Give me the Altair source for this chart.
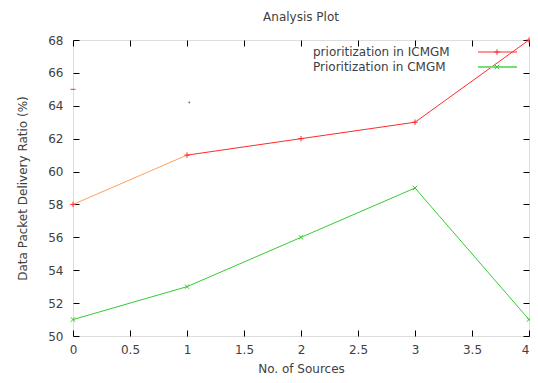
import altair as alt
import pandas as pd

sources = [0, 1, 2, 3, 4]
icmgm = [58, 61, 62, 63, 68]
cmgm = [51, 53, 56, 59, 51]
stray_x = [0, 1.02]
stray_y = [65, 64.2]
x_ticks = [0, 0.5, 1, 1.5, 2, 2.5, 3, 3.5, 4]
y_ticks = [50, 52, 54, 56, 58, 60, 62, 64, 66, 68]
series_names = ["prioritization in ICMGM", "Prioritization in CMGM"]

FONT = "DejaVu Sans"
TXT = "#404040"
RED = "#ff2a2a"
ORANGE = "#ffa060"
GREEN = "#33cc33"

red_seg = pd.DataFrame(
    [{"x": sources[i], "y": icmgm[i], "seg": "a"} for i in range(0, 2)]
    + [{"x": sources[i], "y": icmgm[i], "seg": "b"} for i in range(1, len(sources))]
)
red_pts = pd.DataFrame({"x": sources, "y": icmgm})
green_df = pd.DataFrame({"x": sources, "y": cmgm})
stray = pd.DataFrame({"x": stray_x, "y": stray_y, "c": ["red", "dot"]})

xs = alt.Scale(domain=[0, 4], nice=False, zero=False)
ys = alt.Scale(domain=[50, 68], nice=False, zero=False)

common_axis = dict(
    domain=False, grid=False, ticks=True, tickSize=6, offset=-6,
    tickColor="#000000", tickWidth=1,
    labelFont=FONT, labelFontSize=12, labelColor=TXT,
    titleFont=FONT, titleFontSize=12, titleColor=TXT, titleFontWeight="normal",
)

x_bottom = alt.X("x:Q", scale=xs, axis=alt.Axis(
    values=x_ticks, orient="bottom", title="No. of Sources", labelPadding=8,
    labelFlush=False, labelOverlap=False, format="~g",
    labelAlign=alt.expr("datum.value == 4 ? 'right' : 'center'"),
    titleY=38, titleBaseline="middle", **common_axis))
y_left = alt.Y("y:Q", scale=ys, axis=alt.Axis(
    values=y_ticks, orient="left", title="Data Packet Delivery Ratio (%)",
    labelPadding=10, labelFlush=False, labelOverlap=False,
    titleX=-57, titleY=148, titleBaseline="middle", **common_axis))

x_top = alt.X("x:Q", scale=xs, axis=alt.Axis(
    values=x_ticks, orient="top", title=None, labels=False, **common_axis))
y_right = alt.Y("y:Q", scale=ys, axis=alt.Axis(
    values=y_ticks, orient="right", title=None, labels=False, **common_axis))

XN = alt.X("x:Q", scale=xs, axis=None)
YN = alt.Y("y:Q", scale=ys, axis=None)

red_line = alt.Chart(red_seg).mark_line(strokeWidth=1).encode(
    x=x_bottom, y=y_left,
    color=alt.Color("seg:N", scale=alt.Scale(domain=["a", "b"], range=[ORANGE, RED]), legend=None),
    detail="seg:N",
)

plus_path = "M-1,0L1,0M0,-1L0,1"
cross_path = "M-1,-1L1,1M-1,1L1,-1"

red_marks = alt.Chart(red_pts).mark_point(
    shape=plus_path, size=30, filled=False, color=RED, strokeWidth=1, opacity=1
).encode(x=XN, y=YN)

green_line = alt.Chart(green_df).mark_line(color=GREEN, strokeWidth=1).encode(x=XN, y=YN)
green_marks = alt.Chart(green_df).mark_point(
    shape=cross_path, size=20, filled=False, color=GREEN, strokeWidth=1, opacity=1
).encode(x=XN, y=YN)

stray_red = alt.Chart(stray[stray.c == "red"]).mark_point(
    shape="M-1,0L1,0", size=25, filled=False, color=RED, strokeWidth=1, opacity=1
).encode(x=XN, y=YN)
stray_dot = alt.Chart(stray[stray.c == "dot"]).mark_point(
    shape="circle", size=3, filled=True, color="#606060", opacity=1
).encode(x=XN, y=YN)

frame_axes = alt.Chart(red_pts).mark_point(opacity=0).encode(x=x_top, y=y_right)

leg0 = pd.DataFrame({"name": [series_names[0]]})
leg1 = pd.DataFrame({"name": [series_names[1]]})
ROW0, ROW1 = 12, 27
LX = 240
leg_text0 = alt.Chart(leg0).mark_text(
    align="left", baseline="middle", font=FONT, fontSize=12, color=TXT
).encode(text="name:N", x=alt.value(LX), y=alt.value(ROW0))
leg_text1 = alt.Chart(leg1).mark_text(
    align="left", baseline="middle", font=FONT, fontSize=12, color=TXT
).encode(text="name:N", x=alt.value(LX), y=alt.value(ROW1))
leg_red = alt.Chart(leg0).mark_rule(color=RED, strokeWidth=1).encode(
    x=alt.value(405), x2=alt.value(444), y=alt.value(ROW0))
leg_red_pt = alt.Chart(leg0).mark_point(
    shape=plus_path, size=30, filled=False, color=RED, strokeWidth=1, opacity=1
).encode(x=alt.value(424), y=alt.value(ROW0))
leg_green = alt.Chart(leg1).mark_rule(color="#77dd77", strokeWidth=2).encode(
    x=alt.value(405), x2=alt.value(444), y=alt.value(ROW1))
leg_green_pt = alt.Chart(leg1).mark_point(
    shape=cross_path, size=20, filled=False, color=GREEN, strokeWidth=1, opacity=1
).encode(x=alt.value(424), y=alt.value(ROW1))

chart = alt.layer(
    red_line, frame_axes, green_line, green_marks, red_marks, stray_red, stray_dot,
    leg_text0, leg_text1, leg_red, leg_red_pt, leg_green, leg_green_pt,
).resolve_axis(x="independent", y="independent").resolve_scale(y="shared", x="shared").properties(
    width=456, height=296,
    title=alt.Title("Analysis Plot", font=FONT, fontSize=12, color=TXT,
                    fontWeight="normal", offset=10, anchor="middle"),
    autosize=alt.AutoSizeParams(type="none"),
    padding={"left": 65, "top": 32, "right": 1, "bottom": 38},
).configure_view(stroke="#808080", strokeWidth=2).configure(background="white")

chart.save("out.html", embed_options={"renderer": "svg", "actions": False})
